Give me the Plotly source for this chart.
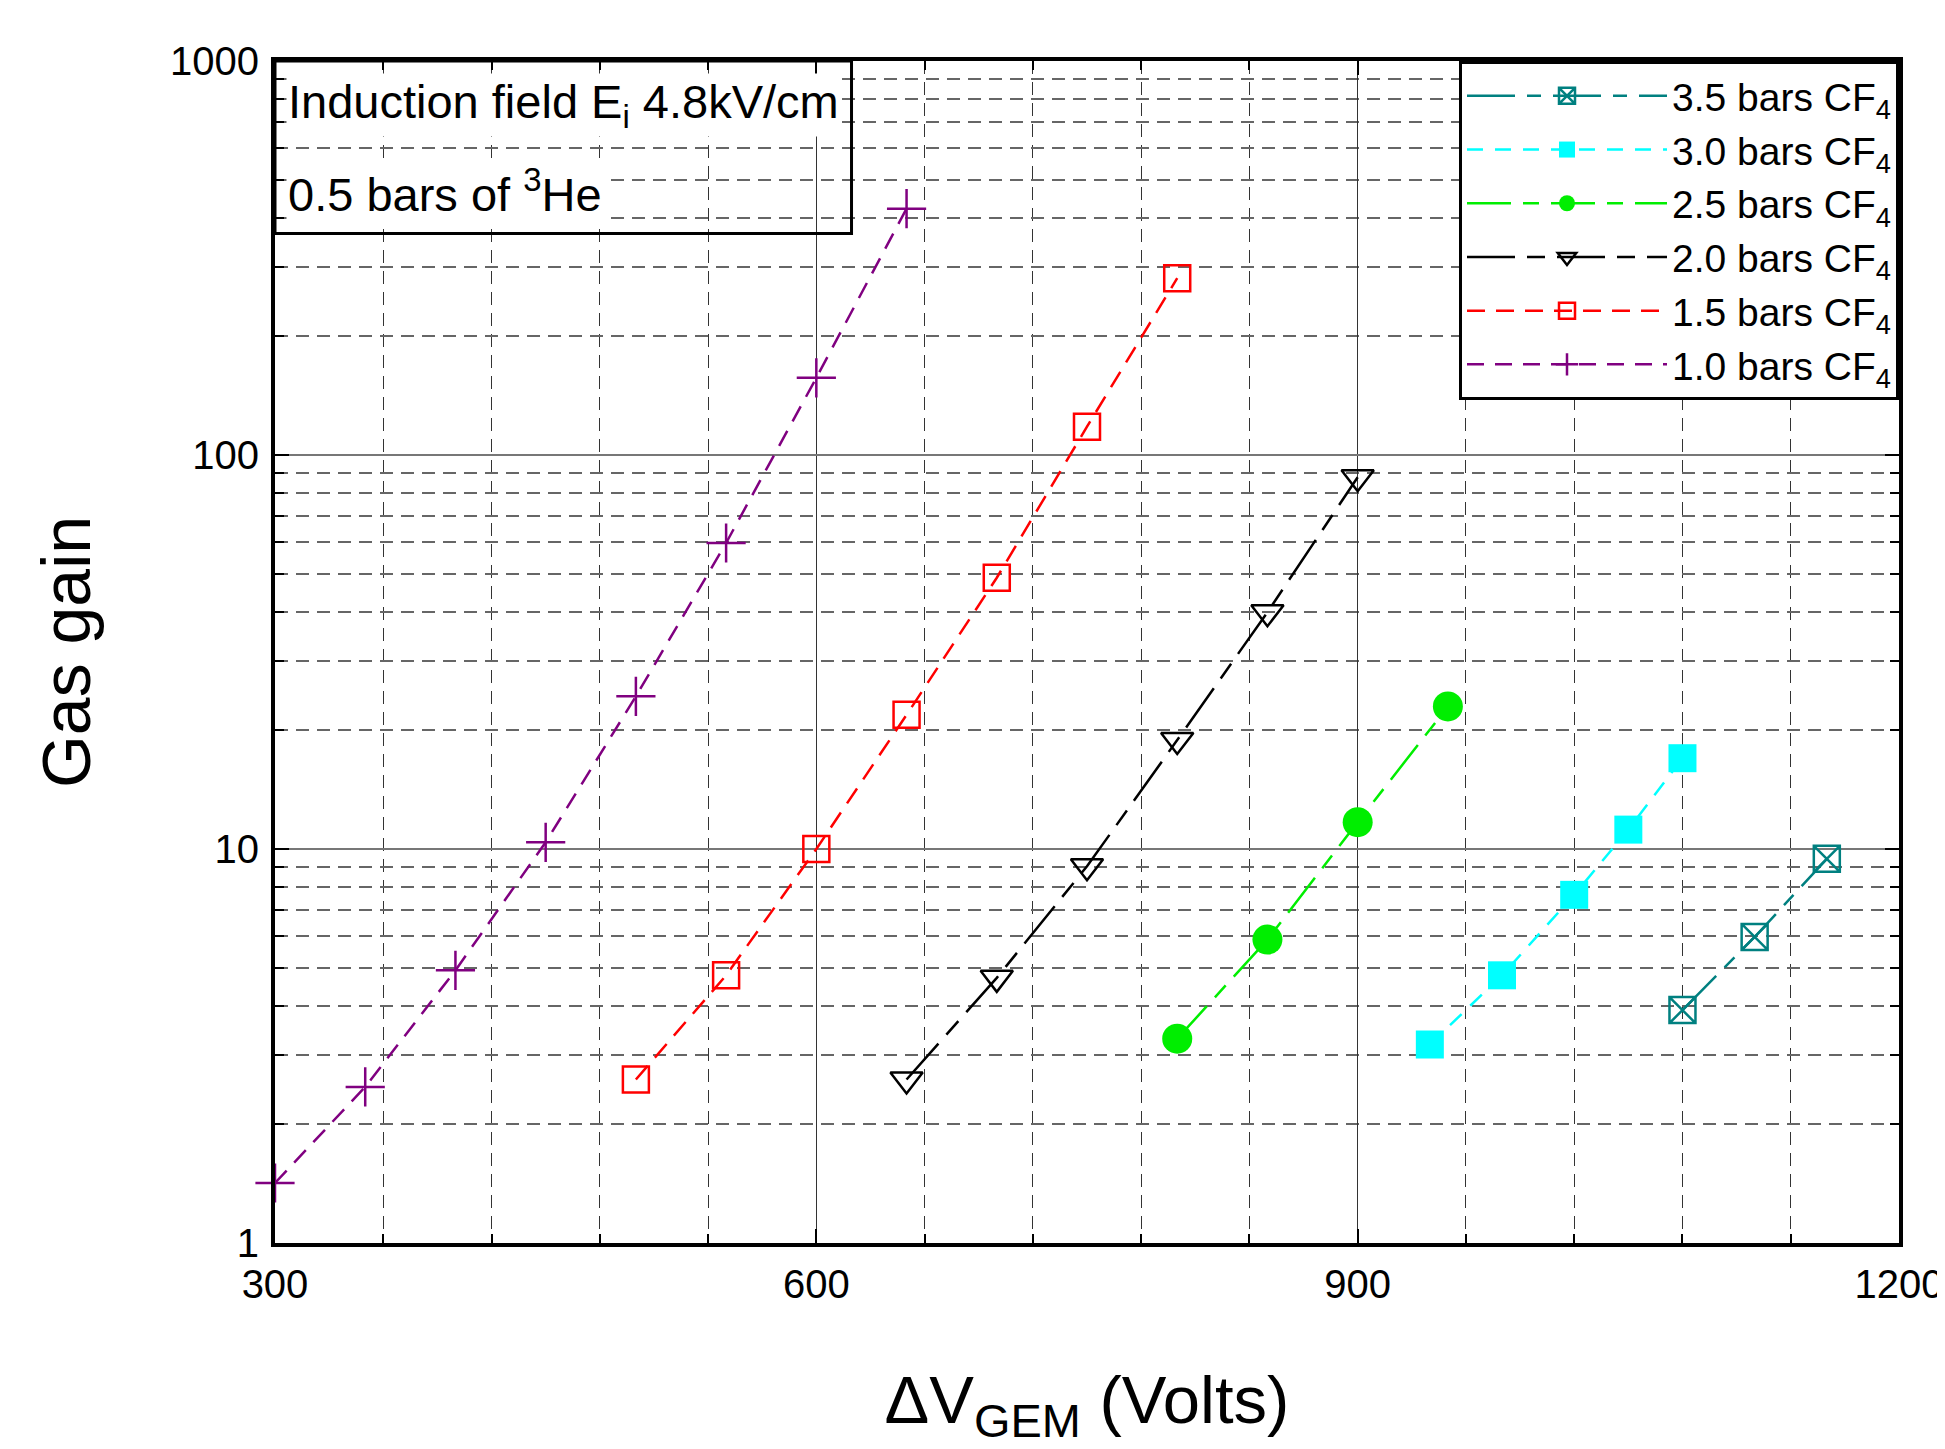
import plotly.graph_objects as go

# ---- data ----
voltage_10 = [300, 350, 400, 450, 500, 550, 600, 650]
gain_10 = [1.42, 2.49, 4.92, 10.4, 24.4, 59.8, 157, 422]

voltage_15 = [500, 550, 600, 650, 700, 750, 800]
gain_15 = [2.60, 4.78, 10.0, 21.9, 48.8, 118, 281]

voltage_20 = [650, 700, 750, 800, 850, 900]
gain_20 = [2.60, 4.71, 9.04, 18.9, 39.9, 87.8]

voltage_25 = [800, 850, 900, 950]
gain_25 = [3.30, 5.89, 11.7, 23.0]

voltage_30 = [940, 980, 1020, 1050, 1080]
gain_30 = [3.19, 4.78, 7.65, 11.2, 17.0]

voltage_35 = [1080, 1120, 1160]
gain_35 = [3.90, 5.98, 9.44]

series_names = ["3.5 bars CF<sub>4</sub>", "3.0 bars CF<sub>4</sub>", "2.5 bars CF<sub>4</sub>",
                "2.0 bars CF<sub>4</sub>", "1.5 bars CF<sub>4</sub>", "1.0 bars CF<sub>4</sub>"]

x_tickvals = [300, 600, 900, 1200]
x_ticktext = ["300", "600", "900", "1200"]
y_tickvals = [1, 10, 100, 1000]
y_ticktext = ["1", "10", "100", "1000"]

FONT = "Liberation Sans, Arial, Helvetica, sans-serif"

styles = [
    dict(color="#008080", symbol="square-x-open", size=26, mline=2.5, fill=False, dash="48px,12px,14px,12px"),
    dict(color="#00FFFF", symbol="square", size=28, mline=0, fill=True, dash="16px,12px"),
    dict(color="#00EE00", symbol="circle", size=30, mline=0, fill=True, dash="44px,12px,16px,12px"),
    dict(color="#000000", symbol="triangle-down-open", size=28, mline=2.5, fill=False, dash="48px,12px,18px,12px"),
    dict(color="#FF0000", symbol="square-open", size=26, mline=2.5, fill=False, dash="18px,11px"),
    dict(color="#800080", symbol="cross-thin-open", size=28, mline=2.5, fill=False, dash="17px,11px"),
]
xs = [voltage_35, voltage_30, voltage_25, voltage_20, voltage_15, voltage_10]
ys = [gain_35, gain_30, gain_25, gain_20, gain_15, gain_10]

fig = go.Figure()
for name, x, y, st in zip(series_names, xs, ys, styles):
    marker = dict(symbol=st["symbol"], size=st["size"], color=st["color"])
    if st["fill"]:
        marker["line"] = dict(width=0)
    else:
        marker["line"] = dict(width=st["mline"], color=st["color"])
    fig.add_trace(go.Scatter(
        x=x, y=y, name=name, mode="lines+markers",
        line=dict(color=st["color"], width=2.5, dash=st["dash"]),
        marker=marker, cliponaxis=False,
    ))

axis_common = dict(
    showline=True, linecolor="black", linewidth=4, mirror="ticks",
    ticks="inside", ticklen=14, tickwidth=1.5, tickcolor="black",
    tickfont=dict(family=FONT, size=40, color="black"),
    zeroline=False,
)

fig.update_xaxes(
    range=[300, 1200], tickvals=x_tickvals, ticktext=x_ticktext,
    showgrid=True, gridcolor="#333333", gridwidth=1,
    minor=dict(tick0=300, dtick=60, ticks="inside", ticklen=9, tickwidth=1.5, tickcolor="black",
               showgrid=True, gridcolor="#333333", gridwidth=1.2, griddash="13px,8px"),
    title=dict(text="ΔV<sub>GEM</sub> (Volts)", font=dict(family=FONT, size=67, color="black"), standoff=72),
    ticklabelstandoff=3,
    **axis_common,
)
fig.update_yaxes(
    type="log", range=[0, 3], tickvals=y_tickvals, ticktext=y_ticktext,
    showgrid=True, gridcolor="#777777", gridwidth=2,
    minor=dict(dtick="D1", ticks="inside", ticklen=9, tickwidth=1.5, tickcolor="black",
               showgrid=True, gridcolor="#666666", gridwidth=1.5, griddash="13px,8px"),
    title=dict(text="Gas gain", font=dict(family=FONT, size=68, color="black"), standoff=58),
    ticklabelstandoff=4,
    **axis_common,
)

fig.add_shape(type="rect", xref="paper", yref="paper", x0=0, x1=0.355, y0=0.854, y1=1,
              line=dict(color="black", width=3), fillcolor="rgba(0,0,0,0)", layer="above")
fig.add_annotation(xref="paper", yref="paper", x=0.007, y=0.963, xanchor="left", yanchor="middle",
                   text="Induction field E<sub>i</sub> 4.8kV/cm", showarrow=False, bgcolor="white",
                   font=dict(family=FONT, size=47, color="black"))
fig.add_annotation(xref="paper", yref="paper", x=0.007, y=0.890, xanchor="left", yanchor="middle",
                   text="0.5 bars of <sup>3</sup>He", showarrow=False, bgcolor="white",
                   font=dict(family=FONT, size=47, color="black"))

fig.update_layout(
    width=1945, height=1449,
    margin=dict(l=267, r=54, t=53, b=214, autoexpand=False),
    paper_bgcolor="white", plot_bgcolor="white",
    font=dict(family=FONT, color="black"),
    showlegend=True,
    legend=dict(x=1, y=1, xanchor="right", yanchor="top", bgcolor="white",
                bordercolor="black", borderwidth=3, font=dict(family=FONT, size=39, color="black"),
                itemwidth=200, tracegroupgap=0),
)

fig.write_html("out.html")
